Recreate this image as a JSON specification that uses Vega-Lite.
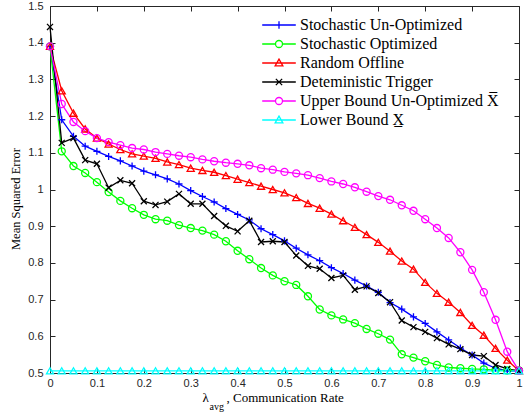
{
  "$schema": "https://vega.github.io/schema/vega-lite/v6.json",
  "width": 469,
  "height": 367,
  "autosize": "none",
  "padding": {"left": 50, "top": 6, "right": 9, "bottom": 44},
  "background": "white",
  "data": {"values": [
    {"s":"SU","x":0,"y":1.39},{"s":"SU","x":0.025,"y":1.19},{"s":"SU","x":0.05,"y":1.145},{"s":"SU","x":0.075,"y":1.118},{"s":"SU","x":0.1,"y":1.104},{"s":"SU","x":0.125,"y":1.09},{"s":"SU","x":0.15,"y":1.078},{"s":"SU","x":0.175,"y":1.064},{"s":"SU","x":0.2,"y":1.05},{"s":"SU","x":0.225,"y":1.04},{"s":"SU","x":0.25,"y":1.029},{"s":"SU","x":0.275,"y":1.015},{"s":"SU","x":0.3,"y":0.997},{"s":"SU","x":0.325,"y":0.981},{"s":"SU","x":0.35,"y":0.966},{"s":"SU","x":0.375,"y":0.948},{"s":"SU","x":0.4,"y":0.932},{"s":"SU","x":0.425,"y":0.917},{"s":"SU","x":0.45,"y":0.893},{"s":"SU","x":0.475,"y":0.877},{"s":"SU","x":0.5,"y":0.86},{"s":"SU","x":0.525,"y":0.84},{"s":"SU","x":0.55,"y":0.822},{"s":"SU","x":0.575,"y":0.806},{"s":"SU","x":0.6,"y":0.787},{"s":"SU","x":0.625,"y":0.771},{"s":"SU","x":0.65,"y":0.753},{"s":"SU","x":0.675,"y":0.737},{"s":"SU","x":0.7,"y":0.72},{"s":"SU","x":0.725,"y":0.692},{"s":"SU","x":0.75,"y":0.674},{"s":"SU","x":0.775,"y":0.653},{"s":"SU","x":0.8,"y":0.635},{"s":"SU","x":0.825,"y":0.612},{"s":"SU","x":0.85,"y":0.59},{"s":"SU","x":0.875,"y":0.568},{"s":"SU","x":0.9,"y":0.549},{"s":"SU","x":0.925,"y":0.527},{"s":"SU","x":0.95,"y":0.513},{"s":"SU","x":0.975,"y":0.506},{"s":"SU","x":1,"y":0.505},
    {"s":"SO","x":0,"y":1.39},{"s":"SO","x":0.025,"y":1.104},{"s":"SO","x":0.05,"y":1.064},{"s":"SO","x":0.075,"y":1.045},{"s":"SO","x":0.1,"y":1.02},{"s":"SO","x":0.125,"y":0.993},{"s":"SO","x":0.15,"y":0.969},{"s":"SO","x":0.175,"y":0.949},{"s":"SO","x":0.2,"y":0.931},{"s":"SO","x":0.225,"y":0.919},{"s":"SO","x":0.25,"y":0.915},{"s":"SO","x":0.275,"y":0.903},{"s":"SO","x":0.3,"y":0.895},{"s":"SO","x":0.325,"y":0.888},{"s":"SO","x":0.35,"y":0.877},{"s":"SO","x":0.375,"y":0.859},{"s":"SO","x":0.4,"y":0.833},{"s":"SO","x":0.425,"y":0.81},{"s":"SO","x":0.45,"y":0.786},{"s":"SO","x":0.475,"y":0.766},{"s":"SO","x":0.5,"y":0.75},{"s":"SO","x":0.525,"y":0.74},{"s":"SO","x":0.55,"y":0.709},{"s":"SO","x":0.575,"y":0.673},{"s":"SO","x":0.6,"y":0.657},{"s":"SO","x":0.625,"y":0.646},{"s":"SO","x":0.65,"y":0.636},{"s":"SO","x":0.675,"y":0.62},{"s":"SO","x":0.7,"y":0.607},{"s":"SO","x":0.725,"y":0.591},{"s":"SO","x":0.75,"y":0.551},{"s":"SO","x":0.775,"y":0.542},{"s":"SO","x":0.8,"y":0.532},{"s":"SO","x":0.825,"y":0.522},{"s":"SO","x":0.85,"y":0.515},{"s":"SO","x":0.875,"y":0.513},{"s":"SO","x":0.9,"y":0.511},{"s":"SO","x":0.925,"y":0.51},{"s":"SO","x":0.95,"y":0.508},{"s":"SO","x":0.975,"y":0.507},{"s":"SO","x":1,"y":0.507},
    {"s":"RO","x":0,"y":1.39},{"s":"RO","x":0.025,"y":1.269},{"s":"RO","x":0.05,"y":1.208},{"s":"RO","x":0.075,"y":1.165},{"s":"RO","x":0.1,"y":1.14},{"s":"RO","x":0.125,"y":1.124},{"s":"RO","x":0.15,"y":1.109},{"s":"RO","x":0.175,"y":1.097},{"s":"RO","x":0.2,"y":1.091},{"s":"RO","x":0.225,"y":1.085},{"s":"RO","x":0.25,"y":1.075},{"s":"RO","x":0.275,"y":1.068},{"s":"RO","x":0.3,"y":1.058},{"s":"RO","x":0.325,"y":1.052},{"s":"RO","x":0.35,"y":1.047},{"s":"RO","x":0.375,"y":1.038},{"s":"RO","x":0.4,"y":1.028},{"s":"RO","x":0.425,"y":1.019},{"s":"RO","x":0.45,"y":1.009},{"s":"RO","x":0.475,"y":1.0},{"s":"RO","x":0.5,"y":0.991},{"s":"RO","x":0.525,"y":0.978},{"s":"RO","x":0.55,"y":0.962},{"s":"RO","x":0.575,"y":0.949},{"s":"RO","x":0.6,"y":0.933},{"s":"RO","x":0.625,"y":0.915},{"s":"RO","x":0.65,"y":0.897},{"s":"RO","x":0.675,"y":0.877},{"s":"RO","x":0.7,"y":0.856},{"s":"RO","x":0.725,"y":0.832},{"s":"RO","x":0.75,"y":0.805},{"s":"RO","x":0.775,"y":0.783},{"s":"RO","x":0.8,"y":0.747},{"s":"RO","x":0.825,"y":0.717},{"s":"RO","x":0.85,"y":0.693},{"s":"RO","x":0.875,"y":0.665},{"s":"RO","x":0.9,"y":0.63},{"s":"RO","x":0.925,"y":0.603},{"s":"RO","x":0.95,"y":0.567},{"s":"RO","x":0.975,"y":0.535},{"s":"RO","x":1,"y":0.506},
    {"s":"DT","x":0,"y":1.443},{"s":"DT","x":0.025,"y":1.127},{"s":"DT","x":0.05,"y":1.14},{"s":"DT","x":0.075,"y":1.08},{"s":"DT","x":0.1,"y":1.07},{"s":"DT","x":0.125,"y":1.005},{"s":"DT","x":0.15,"y":1.025},{"s":"DT","x":0.175,"y":1.017},{"s":"DT","x":0.2,"y":0.968},{"s":"DT","x":0.225,"y":0.958},{"s":"DT","x":0.25,"y":0.967},{"s":"DT","x":0.275,"y":0.988},{"s":"DT","x":0.3,"y":0.961},{"s":"DT","x":0.325,"y":0.961},{"s":"DT","x":0.35,"y":0.928},{"s":"DT","x":0.375,"y":0.901},{"s":"DT","x":0.4,"y":0.886},{"s":"DT","x":0.425,"y":0.915},{"s":"DT","x":0.45,"y":0.857},{"s":"DT","x":0.475,"y":0.859},{"s":"DT","x":0.5,"y":0.857},{"s":"DT","x":0.525,"y":0.82},{"s":"DT","x":0.55,"y":0.792},{"s":"DT","x":0.575,"y":0.784},{"s":"DT","x":0.6,"y":0.759},{"s":"DT","x":0.625,"y":0.766},{"s":"DT","x":0.65,"y":0.727},{"s":"DT","x":0.675,"y":0.736},{"s":"DT","x":0.7,"y":0.718},{"s":"DT","x":0.725,"y":0.693},{"s":"DT","x":0.75,"y":0.643},{"s":"DT","x":0.775,"y":0.625},{"s":"DT","x":0.8,"y":0.612},{"s":"DT","x":0.825,"y":0.595},{"s":"DT","x":0.85,"y":0.578},{"s":"DT","x":0.875,"y":0.565},{"s":"DT","x":0.9,"y":0.549},{"s":"DT","x":0.925,"y":0.546},{"s":"DT","x":0.95,"y":0.522},{"s":"DT","x":0.975,"y":0.511},{"s":"DT","x":1,"y":0.506},
    {"s":"UB","x":0,"y":1.39},{"s":"UB","x":0.025,"y":1.233},{"s":"UB","x":0.05,"y":1.184},{"s":"UB","x":0.075,"y":1.159},{"s":"UB","x":0.1,"y":1.14},{"s":"UB","x":0.125,"y":1.129},{"s":"UB","x":0.15,"y":1.121},{"s":"UB","x":0.175,"y":1.113},{"s":"UB","x":0.2,"y":1.109},{"s":"UB","x":0.225,"y":1.102},{"s":"UB","x":0.25,"y":1.097},{"s":"UB","x":0.275,"y":1.092},{"s":"UB","x":0.3,"y":1.088},{"s":"UB","x":0.325,"y":1.082},{"s":"UB","x":0.35,"y":1.077},{"s":"UB","x":0.375,"y":1.073},{"s":"UB","x":0.4,"y":1.07},{"s":"UB","x":0.425,"y":1.066},{"s":"UB","x":0.45,"y":1.058},{"s":"UB","x":0.475,"y":1.054},{"s":"UB","x":0.5,"y":1.048},{"s":"UB","x":0.525,"y":1.044},{"s":"UB","x":0.55,"y":1.039},{"s":"UB","x":0.575,"y":1.031},{"s":"UB","x":0.6,"y":1.022},{"s":"UB","x":0.625,"y":1.015},{"s":"UB","x":0.65,"y":1.006},{"s":"UB","x":0.675,"y":0.994},{"s":"UB","x":0.7,"y":0.982},{"s":"UB","x":0.725,"y":0.972},{"s":"UB","x":0.75,"y":0.957},{"s":"UB","x":0.775,"y":0.942},{"s":"UB","x":0.8,"y":0.919},{"s":"UB","x":0.825,"y":0.895},{"s":"UB","x":0.85,"y":0.868},{"s":"UB","x":0.875,"y":0.829},{"s":"UB","x":0.9,"y":0.781},{"s":"UB","x":0.925,"y":0.72},{"s":"UB","x":0.95,"y":0.645},{"s":"UB","x":0.975,"y":0.558},{"s":"UB","x":1,"y":0.506},
    {"s":"LB","x":0,"y":0.506},{"s":"LB","x":0.025,"y":0.506},{"s":"LB","x":0.05,"y":0.506},{"s":"LB","x":0.075,"y":0.506},{"s":"LB","x":0.1,"y":0.506},{"s":"LB","x":0.125,"y":0.506},{"s":"LB","x":0.15,"y":0.506},{"s":"LB","x":0.175,"y":0.506},{"s":"LB","x":0.2,"y":0.506},{"s":"LB","x":0.225,"y":0.506},{"s":"LB","x":0.25,"y":0.506},{"s":"LB","x":0.275,"y":0.506},{"s":"LB","x":0.3,"y":0.506},{"s":"LB","x":0.325,"y":0.506},{"s":"LB","x":0.35,"y":0.506},{"s":"LB","x":0.375,"y":0.506},{"s":"LB","x":0.4,"y":0.506},{"s":"LB","x":0.425,"y":0.506},{"s":"LB","x":0.45,"y":0.506},{"s":"LB","x":0.475,"y":0.506},{"s":"LB","x":0.5,"y":0.506},{"s":"LB","x":0.525,"y":0.506},{"s":"LB","x":0.55,"y":0.506},{"s":"LB","x":0.575,"y":0.506},{"s":"LB","x":0.6,"y":0.506},{"s":"LB","x":0.625,"y":0.506},{"s":"LB","x":0.65,"y":0.506},{"s":"LB","x":0.675,"y":0.506},{"s":"LB","x":0.7,"y":0.506},{"s":"LB","x":0.725,"y":0.506},{"s":"LB","x":0.75,"y":0.506},{"s":"LB","x":0.775,"y":0.506},{"s":"LB","x":0.8,"y":0.506},{"s":"LB","x":0.825,"y":0.506},{"s":"LB","x":0.85,"y":0.506},{"s":"LB","x":0.875,"y":0.506},{"s":"LB","x":0.9,"y":0.506},{"s":"LB","x":0.925,"y":0.506},{"s":"LB","x":0.95,"y":0.506},{"s":"LB","x":0.975,"y":0.506},{"s":"LB","x":1,"y":0.506}
  ]},
  "resolve": {
    "scale": {"color": "independent", "shape": "independent"},
    "axis": {"x": "independent", "y": "independent"}
  },
  "layer": [
    {
      "mark": {"type": "line", "strokeWidth": 1.3},
      "encoding": {
        "x": {"field": "x", "type": "quantitative", "scale": {"domain": [0, 1], "nice": false, "zero": false},
          "axis": {"orient": "bottom", "values": [0,0.1,0.2,0.3,0.4,0.5,0.6,0.7,0.8,0.9,1], "format": "~g", "labelPadding": 9,
            "title": "λ", "titleFontSize": 13, "titleX": 152, "titleY": 24, "titleAlign": "left", "titleBaseline": "middle", "titleAnchor": null}},
        "y": {"field": "y", "type": "quantitative", "scale": {"domain": [0.5, 1.5], "nice": false, "zero": false},
          "axis": {"orient": "left", "values": [0.5,0.6,0.7,0.8,0.9,1,1.1,1.2,1.3,1.4,1.5], "format": "~g", "labelPadding": 12,
            "title": "Mean Squared Error", "titleFontSize": 12.5, "titleX": -35, "titleY": 192.5, "titleAlign": "center", "titleBaseline": "middle", "titleAnchor": null}},
        "color": {"field": "s", "type": "nominal", "legend": null,
          "scale": {"domain": ["SU","SO","RO","DT","UB","LB"], "range": ["#0000FF","#00FF00","#FF0000","#000000","#FF00FF","#00FFFF"]}},
        "order": {"field": "x"}
      }
    },
    {
      "mark": {"type": "point", "filled": false, "strokeWidth": 1.3, "size": 50, "opacity": 1},
      "encoding": {
        "x": {"field": "x", "type": "quantitative", "axis": null},
        "y": {"field": "y", "type": "quantitative", "axis": null},
        "color": {"field": "s", "type": "nominal", "legend": null,
          "scale": {"domain": ["SU","SO","RO","DT","UB","LB"], "range": ["#0000FF","#00FF00","#FF0000","#000000","#FF00FF","#00FFFF"]}},
        "shape": {"field": "s", "type": "nominal", "legend": null,
          "scale": {"domain": ["SU","SO","RO","DT","UB","LB"], "range": ["M-1,0H1M0,-1V1","circle","triangle-up","M-0.85,-0.85L0.85,0.85M-0.85,0.85L0.85,-0.85","circle","triangle-up"]}}
      }
    },
    {
      "transform": [{"filter": "datum.y > 10"}],
      "mark": {"type": "point", "filled": false, "strokeWidth": 1.3, "size": 196, "opacity": 1},
      "encoding": {
        "x": {"field": "x", "type": "quantitative",
          "axis": {"orient": "bottom", "title": "avg", "titleFontSize": 10, "titleX": 159, "titleY": 33, "titleAlign": "left", "titleBaseline": "middle", "titleAnchor": null, "domain": false, "ticks": false, "labels": false}},
        "y": {"field": "y", "type": "quantitative", "axis": null},
        "color": {"field": "s", "type": "nominal",
          "scale": {"domain": ["Stochastic Un-Optimized","Stochastic Optimized","Random Offline","Deteministic Trigger","Upper Bound Un-Optimized X\u0305","Lower Bound X\u0332"], "range": ["#0000FF","#00FF00","#FF0000","#000000","#FF00FF","#00FFFF"]},
          "legend": {"orient": "none", "legendX": 221, "legendY": 11, "title": null, "padding": 0, "labelOffset": 13, "rowPadding": 3, "symbolSize": 196, "symbolStrokeWidth": 1.3, "labelFont": "Liberation Serif", "labelFontSize": 16, "labelColor": "#000000", "labelLimit": 0}},
        "shape": {"field": "s", "type": "nominal",
          "scale": {"domain": ["Stochastic Un-Optimized","Stochastic Optimized","Random Offline","Deteministic Trigger","Upper Bound Un-Optimized X\u0305","Lower Bound X\u0332"],
            "range": ["M-2.4,0H2.4M-0.55,0H0.55M0,-0.55V0.55","M-2.4,0H-0.5M0.5,0H2.4M0.5,0A0.5,0.5,0,1,1,-0.5,0A0.5,0.5,0,1,1,0.5,0","M-2.4,0H2.4M0,-0.55L0.55,0.4L-0.55,0.4Z","M-2.4,0H2.4M-0.45,-0.45L0.45,0.45M-0.45,0.45L0.45,-0.45","M-2.4,0H-0.5M0.5,0H2.4M0.5,0A0.5,0.5,0,1,1,-0.5,0A0.5,0.5,0,1,1,0.5,0","M-2.4,0H2.4M0,-0.55L0.55,0.4L-0.55,0.4Z"]},
          "legend": {"orient": "none", "legendX": 221, "legendY": 11, "title": null, "padding": 0, "labelOffset": 13, "rowPadding": 3, "symbolSize": 196, "symbolStrokeWidth": 1.3, "labelFont": "Liberation Serif", "labelFontSize": 16, "labelColor": "#000000", "labelLimit": 0}}
      }
    },
    {
      "transform": [{"filter": "datum.y > 10"}],
      "mark": {"type": "point"},
      "encoding": {
        "x": {"field": "x", "type": "quantitative",
          "axis": {"orient": "top", "values": [0,0.1,0.2,0.3,0.4,0.5,0.6,0.7,0.8,0.9,1], "labels": false, "title": null}},
        "y": {"field": "y", "type": "quantitative",
          "axis": {"orient": "right", "values": [0.5,0.6,0.7,0.8,0.9,1,1.1,1.2,1.3,1.4,1.5], "labels": false, "title": null}}
      }
    },
    {
      "transform": [{"filter": "datum.y > 10"}],
      "mark": {"type": "point"},
      "encoding": {
        "x": {"field": "x", "type": "quantitative",
          "axis": {"orient": "bottom", "title": ", Communication Rate", "titleFontSize": 13, "titleX": 176, "titleY": 24, "titleAlign": "left", "titleBaseline": "middle", "titleAnchor": null, "domain": false, "ticks": false, "labels": false}},
        "y": {"field": "y", "type": "quantitative", "axis": null}
      }
    }
  ],
  "config": {
    "view": {"stroke": null},
    "axis": {"grid": false, "domainColor": "#262626", "tickColor": "#262626", "labelColor": "#262626", "labelFont": "Liberation Sans", "labelFontSize": 11, "tickSize": -5, "domainWidth": 1, "tickWidth": 1, "labelFlush": false, "labelOverlap": false, "titleFont": "Liberation Serif", "titleFontWeight": "normal", "titleColor": "#000000", "titleFontSize": 13.5},
    "legend": {"labelFont": "Liberation Serif", "labelFontSize": 16, "labelColor": "#000000", "labelLimit": 0}
  }
}
